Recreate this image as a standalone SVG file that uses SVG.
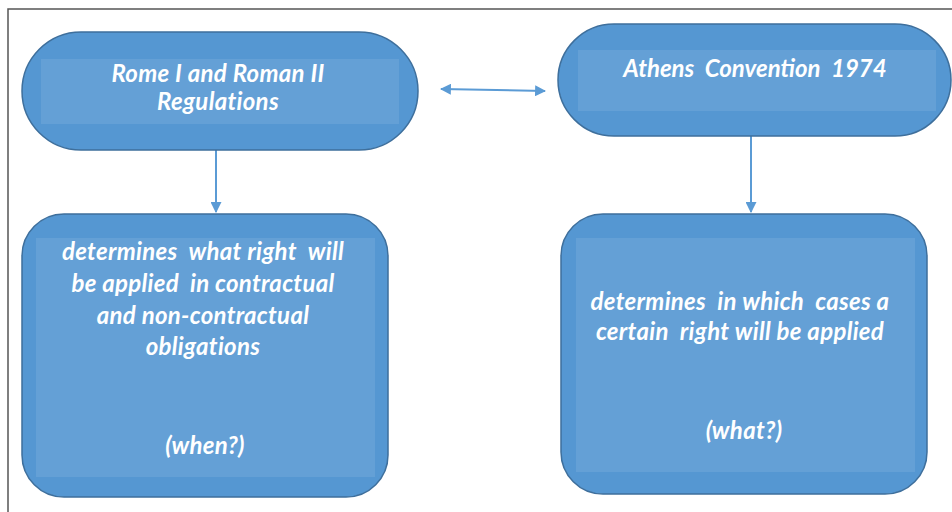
<svg xmlns="http://www.w3.org/2000/svg" width="952" height="512" viewBox="0 0 952 512">
<style>
.node{fill:#5597d2;stroke:#3e6f9c;stroke-width:1.5}
.inner{fill:#ffffff;fill-opacity:0.09}
.t{font-family:Lato,"Open Sans",sans-serif;font-weight:bold;font-style:italic;font-size:24px;fill:#ffffff;text-anchor:middle;white-space:pre;letter-spacing:0.3px}
.conn{stroke:#5b9bd5;stroke-width:2;fill:none}
</style>
<defs>
<marker id="ah" viewBox="0 0 10 10" refX="9" refY="5" markerWidth="5.5" markerHeight="5.5" orient="auto-start-reverse" markerUnits="strokeWidth">
<path d="M0,0 L10,5 L0,10 z" fill="#5b9bd5"/>
</marker>
</defs>
<rect x="8" y="9" width="960" height="520" fill="#ffffff" stroke="#555555" stroke-width="1.5"/>
<g id="connectors">
<line class="conn" x1="441" y1="89" x2="545" y2="91" marker-start="url(#ah)" marker-end="url(#ah)"/>
<line class="conn" x1="216" y1="150" x2="216" y2="212" marker-end="url(#ah)"/>
<line class="conn" x1="751" y1="136" x2="751" y2="212" marker-end="url(#ah)"/>
</g>
<g id="rome">
<rect class="node" x="22" y="32" width="396" height="118" rx="59"/>
<rect class="inner" x="41" y="59" width="358" height="65"/>
<text class="t" x="218" y="82">Rome I and Roman II</text>
<text class="t" x="218" y="110">Regulations</text>
</g>
<g id="athens">
<rect class="node" x="558" y="24" width="393" height="112" rx="56"/>
<rect class="inner" x="578" y="50" width="358" height="61"/>
<text class="t" x="755" y="77" style="letter-spacing:0">Athens  Convention  1974</text>
</g>
<g id="when">
<rect class="node" x="22" y="214" width="366" height="283" rx="42"/>
<rect class="inner" x="36" y="238" width="339" height="239"/>
<text class="t" x="203" y="260">determines  what right  will</text>
<text class="t" x="203" y="292">be applied  in contractual</text>
<text class="t" x="203" y="324">and non-contractual</text>
<text class="t" x="203" y="355">obligations</text>
<text class="t" x="205" y="454">(when?)</text>
</g>
<g id="what">
<rect class="node" x="561" y="214" width="366" height="280" rx="42"/>
<rect class="inner" x="576" y="238" width="339" height="234"/>
<text class="t" x="740" y="310">determines  in which  cases a</text>
<text class="t" x="740" y="340">certain  right will be applied</text>
<text class="t" x="744" y="439">(what?)</text>
</g>
</svg>
